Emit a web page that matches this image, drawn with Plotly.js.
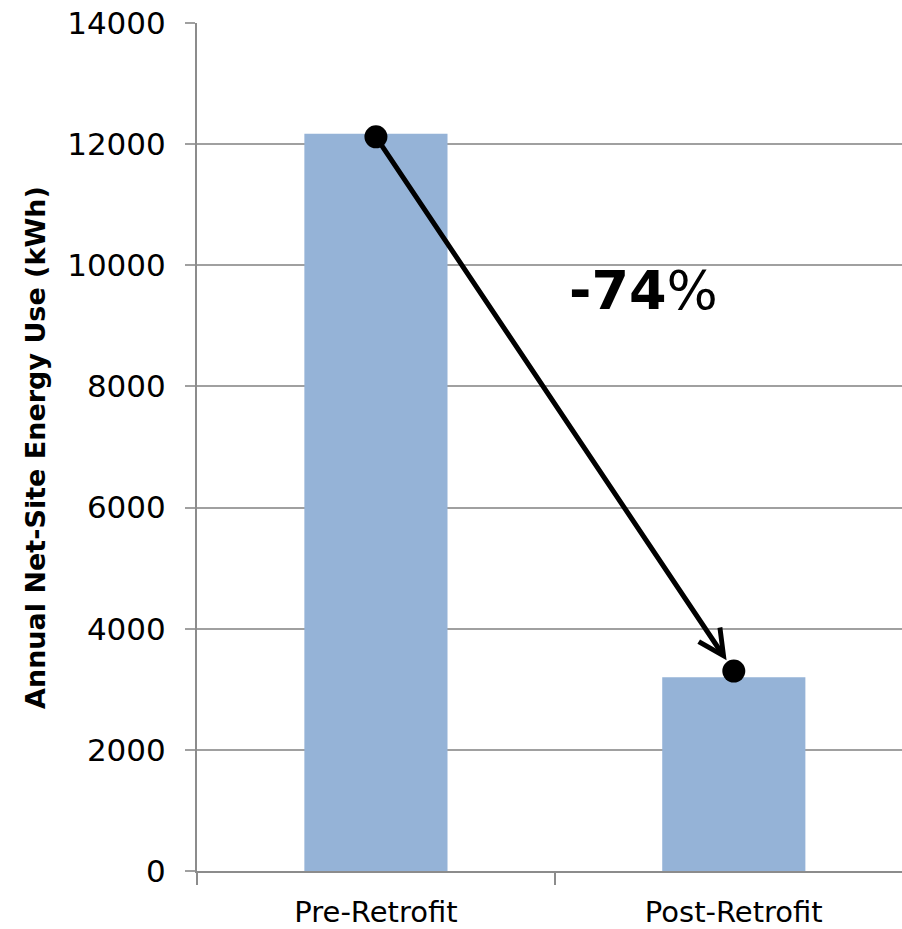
<!DOCTYPE html>
<html>
<head>
<meta charset="utf-8">
<script src="https://cdn.plot.ly/plotly-3.0.1.min.js"></script>
<style>
  html, body { margin: 0; padding: 0; background: #ffffff; overflow: hidden; }
  #chart { width: 902px; height: 929px; }
</style>
</head>
<body>
<div id="chart"></div>
<script>
// ---- data ----
const categories = ['Pre-Retrofit', 'Post-Retrofit'];
const energyUse = [12170, 3200];          // bar heights (kWh)
const markerValues = [12120, 3300];       // arrow endpoints (kWh)
const changeNumber = '-74';
const changeUnit = '%';
const yTickValues = [0, 2000, 4000, 6000, 8000, 10000, 12000, 14000];
const yTitle = 'Annual Net-Site Energy Use (kWh)';

const bars = {
  type: 'bar',
  x: categories,
  y: energyUse,
  width: 0.4,
  marker: { color: '#95B3D7', line: { width: 0 } },
  hoverinfo: 'skip'
};

const dots = {
  type: 'scatter',
  mode: 'markers',
  x: categories,
  y: markerValues,
  marker: { color: '#000000', size: 23 },
  hoverinfo: 'skip'
};

const layout = {
  width: 902,
  height: 929,
  margin: { l: 197, r: 0, t: 23, b: 58 },
  paper_bgcolor: '#ffffff',
  plot_bgcolor: '#ffffff',
  showlegend: false,
  font: { family: 'DejaVu Sans, sans-serif', color: '#000000' },
  xaxis: {
    type: 'category',
    range: [-0.5, 1.47],
    showgrid: false,
    showline: true,
    linecolor: '#8c8c8c',
    linewidth: 2,
    ticks: 'outside',
    tickson: 'boundaries',
    ticklen: 12,
    tickwidth: 1.5,
    tickcolor: '#8c8c8c',
    ticklabelstandoff: 14,
    tickfont: { size: 29, family: 'DejaVu Sans, sans-serif', color: '#000000' },
    automargin: false,
    fixedrange: true
  },
  yaxis: {
    range: [0, 14000],
    tickvals: yTickValues,
    ticktext: yTickValues.map(String),
    showgrid: true,
    gridcolor: '#a0a0a0',
    gridwidth: 2,
    zeroline: false,
    showline: true,
    linecolor: '#8c8c8c',
    linewidth: 2,
    ticks: 'outside',
    ticklen: 10,
    tickwidth: 2,
    tickcolor: '#a0a0a0',
    ticklabelstandoff: 13,
    tickfont: { size: 31, family: 'DejaVu Sans, sans-serif', color: '#000000' },
    automargin: false,
    fixedrange: true
  },
  annotations: [
    {
      xref: 'x', yref: 'y', axref: 'x', ayref: 'y',
      x: categories[1], y: markerValues[1],
      ax: categories[0], ay: markerValues[0],
      text: '',
      showarrow: true,
      arrowhead: 5,
      arrowsize: 1,
      arrowwidth: 5,
      arrowcolor: '#000000',
      standoff: 13,
      startstandoff: 0
    },
    {
      xref: 'paper', yref: 'paper',
      x: 0.633, y: 0.684,
      xanchor: 'center', yanchor: 'middle',
      text: '<b>' + changeNumber + '</b>' + changeUnit,
      showarrow: false,
      font: { size: 54, family: 'DejaVu Sans, sans-serif', color: '#000000' }
    },
    {
      xref: 'paper', yref: 'paper',
      x: -0.2298, y: 0.5,
      xanchor: 'center', yanchor: 'middle',
      textangle: -90,
      text: '<b>' + yTitle + '</b>',
      showarrow: false,
      font: { size: 27, family: 'DejaVu Sans, sans-serif', color: '#000000' }
    }
  ]
};

Plotly.newPlot('chart', [bars, dots], layout, { displayModeBar: false, staticPlot: true });
</script>
</body>
</html>
